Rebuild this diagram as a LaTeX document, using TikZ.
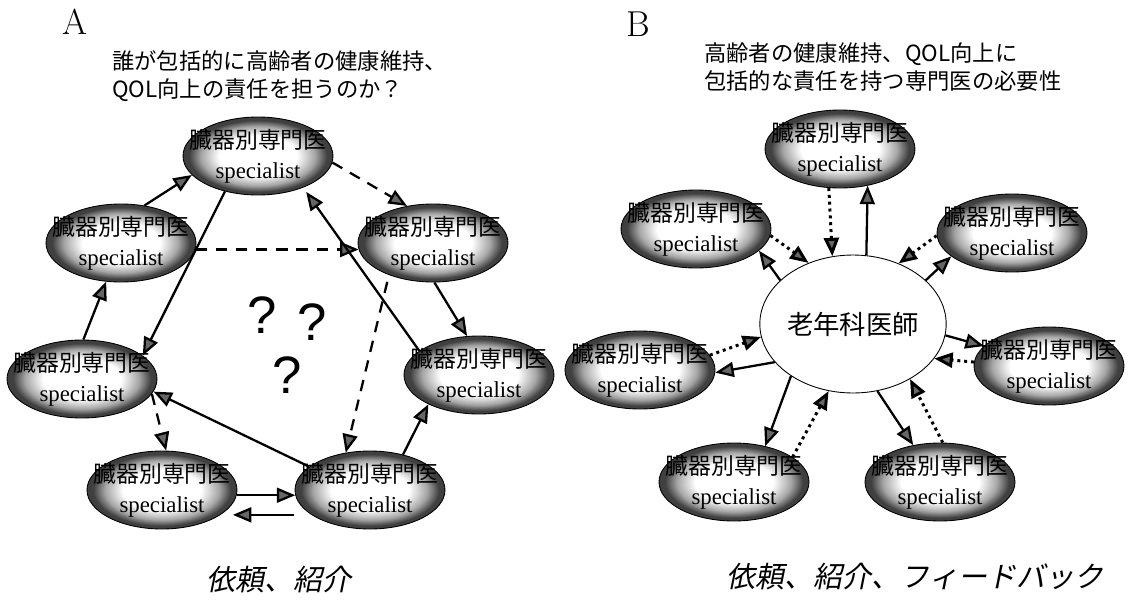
\documentclass[tikz,border=0pt]{standalone}
\usepackage{fontspec}
\newfontfamily\jpfont{Noto Sans CJK JP}
\newfontfamily\jpslant[FakeSlant=0.2]{Noto Sans CJK JP}
\newfontfamily\tmsfont{Liberation Serif}
\newfontfamily\qfont{Liberation Sans}
\usetikzlibrary{arrows.meta,shapes.geometric}

\pgfdeclareradialshading{organshade}{\pgfpoint{0bp}{0bp}}{color(0bp)=(white); color(13bp)=(white); color(19bp)=(black!35); color(23bp)=(black!75); color(50bp)=(black!78)}

\newcommand{\organlabel}{{\jpfont 臓器別専門医}\\{\tmsfont specialist}}

\tikzset{
  organ/.style={ellipse, draw=black, line width=0.5pt, shading=organshade,
    minimum width=3.0cm, minimum height=1.56cm, inner xsep=-0.5cm, inner ysep=-0.3cm,
    align=center, font=\fontsize{13}{17}\selectfont},
  geriatric/.style={ellipse, draw=black, line width=0.5pt, fill=white,
    minimum width=2.92cm, minimum height=2.76cm, inner sep=0pt,
    font=\jpfont\fontsize{15}{15}\selectfont},
  panel/.style={font=\fontsize{20.5}{20.5}\selectfont},
  heading/.style={align=left, inner sep=0pt, font=\jpfont\fontsize{12.7}{15.9}\selectfont},
  caption/.style={inner sep=0pt, font=\jpslant\fontsize{16.5}{16.5}\selectfont},
  qmark/.style={anchor=base, inner sep=0pt, font=\qfont\fontsize{30}{30}\selectfont},
  refer/.style={-{Triangle[length=10.5pt,width=8.5pt,fill=black!60]}, line width=1.3pt},
  dashref/.style={refer, dash pattern=on 6.5pt off 5pt},
  dotref/.style={refer, line width=1.7pt, dash pattern=on 1.7pt off 2.2pt}
}

\begin{document}
\begin{tikzpicture}[x=0.02cm, y=-0.02cm]
\useasboundingbox (0,0) rectangle (1130,599);

% A: specialists referring to one another
\node[panel] (labA) at (75,22) {A};
\node[heading, anchor=west] (headA) at (112,76) {誰が包括的に高齢者の健康維持、\\QOL向上の責任を担うのか？};

\node[organ] (tA) at (258,156) {\organlabel};
\node[organ] (ulA) at (121,243) {\organlabel};
\node[organ] (urA) at (433,243) {\organlabel};
\node[organ] (mlA) at (82,379) {\organlabel};
\node[organ] (mrA) at (479,375) {\organlabel};
\node[organ] (blA) at (162,490) {\organlabel};
\node[organ] (brA) at (370,490) {\organlabel};

\node[qmark] (q1) at (262,333) {?};
\node[qmark] (q2) at (312,340) {?};
\node[qmark] (q3) at (287,393) {?};

\draw[refer] (ulA.58) -- (tA.196);
\draw[dashref] (tA.355) -- (urA.125);
\draw[dashref] (ulA.355) -- (urA.185);
\draw[refer] (tA.227) -- (mlA.21);
\draw[refer, shorten >=3pt] (mrA.158) -- (tA.325);
\draw[refer] (urA.272) -- (mrA.107);
\draw[refer] (mlA.88) -- (ulA.249);
\draw[dashref, shorten <=4pt] (urA.216) -- (brA.123);
\draw[dashref] (mlA.348) -- (blA.84);
\draw[refer] (brA.159) -- (mlA.350);
\draw[refer] (brA.47) -- (mrA.210);
\draw[refer] (blA.356) -- (brA.184);
\draw[refer, shorten <=10pt, shorten >=7pt] (brA.203) -- (blA.337);

\node[caption] (capA) at (279,580) {依頼、紹介};

% B: geriatrician in the middle
\node[panel] (labB) at (638,24) {B};
\node[heading, anchor=west] (headB) at (704,67) {高齢者の健康維持、QOL向上に\\包括的な責任を持つ専門医の必要性};

\node[geriatric] (ctr) at (853,324) {老年科医師};
\node[organ] (tB) at (840,149) {\organlabel};
\node[organ] (ulB) at (696,229) {\organlabel};
\node[organ] (urB) at (1012,233) {\organlabel};
\node[organ] (mlB) at (640,370) {\organlabel};
\node[organ] (mrB) at (1049,366) {\organlabel};
\node[organ] (blB) at (734,482) {\organlabel};
\node[organ] (brB) at (940,482) {\organlabel};

\draw[dotref] (tB.254) -- (ctr.107);
\draw[refer] (ctr.79) -- (tB.307);
\draw[dotref] (ulB.355) -- (ctr.126);
\draw[refer] (ctr.149) -- (ulB.341);
\draw[dotref] (urB.182) -- (ctr.53);
\draw[refer] (ctr.31) -- (urB.201);
\draw[dotref] (mlB.12) -- (ctr.188);
\draw[refer] (ctr.206) -- (mlB.358);
\draw[refer] (ctr.353) -- (mrB.163);
\draw[dotref] (mrB.177) -- (ctr.337);
\draw[refer] (ctr.220) -- (blB.49);
\draw[dotref] (blB.23) -- (ctr.250);
\draw[refer] (ctr.290) -- (brB.126);
\draw[dotref] (brB.86) -- (ctr.316);

\node[caption] (capB) at (915,577) {依頼、紹介、フィードバック};
\end{tikzpicture}
\end{document}
